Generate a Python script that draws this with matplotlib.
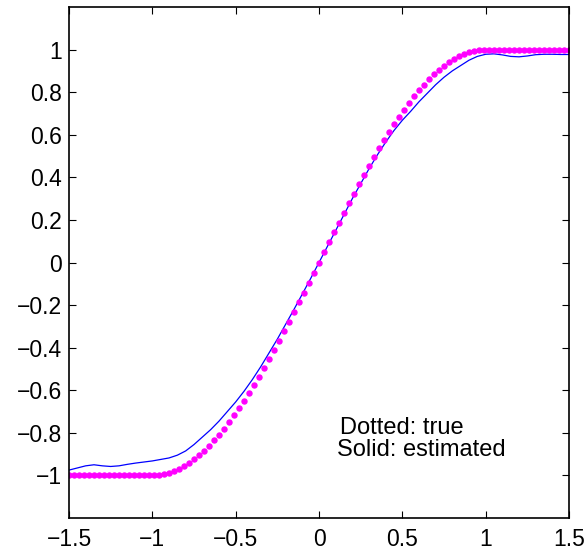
import matplotlib
matplotlib.use('Agg')
import matplotlib.pyplot as plt

plt.rcParams.update({
    'font.family': ['Liberation Sans', 'DejaVu Sans'],
    'font.size': 16.5,
})

# true function (dotted), sampled every 0.03
x_true = [-1.50, -1.47, -1.44, -1.41, -1.38, -1.35, -1.32, -1.29, -1.26, -1.23,
          -1.20, -1.17, -1.14, -1.11, -1.08, -1.05, -1.02, -0.99, -0.96, -0.93,
          -0.90, -0.87, -0.84, -0.81, -0.78, -0.75, -0.72, -0.69, -0.66, -0.63,
          -0.60, -0.57, -0.54, -0.51, -0.48, -0.45, -0.42, -0.39, -0.36, -0.33,
          -0.30, -0.27, -0.24, -0.21, -0.18, -0.15, -0.12, -0.09, -0.06, -0.03,
          0.00, 0.03, 0.06, 0.09, 0.12, 0.15, 0.18, 0.21, 0.24, 0.27,
          0.30, 0.33, 0.36, 0.39, 0.42, 0.45, 0.48, 0.51, 0.54, 0.57,
          0.60, 0.63, 0.66, 0.69, 0.72, 0.75, 0.78, 0.81, 0.84, 0.87,
          0.90, 0.93, 0.96, 0.99, 1.02, 1.05, 1.08, 1.11, 1.14, 1.17,
          1.20, 1.23, 1.26, 1.29, 1.32, 1.35, 1.38, 1.41, 1.44, 1.47, 1.50]
y_true = [-1.0, -1.0, -1.0, -1.0, -1.0, -1.0, -1.0, -1.0, -1.0, -1.0,
          -1.0, -1.0, -1.0, -1.0, -1.0, -1.0, -1.0, -1.000, -0.998, -0.994,
          -0.988, -0.979, -0.969, -0.956, -0.941, -0.924, -0.905, -0.884, -0.861, -0.836,
          -0.809, -0.780, -0.750, -0.718, -0.685, -0.649, -0.613, -0.575, -0.536, -0.495,
          -0.454, -0.412, -0.368, -0.324, -0.279, -0.233, -0.187, -0.141, -0.094, -0.047,
          0.000, 0.047, 0.094, 0.141, 0.187, 0.233, 0.279, 0.324, 0.368, 0.412,
          0.454, 0.495, 0.536, 0.575, 0.613, 0.649, 0.685, 0.718, 0.750, 0.780,
          0.809, 0.836, 0.861, 0.884, 0.905, 0.924, 0.941, 0.956, 0.969, 0.979,
          0.988, 0.994, 0.998, 1.000, 1.0, 1.0, 1.0, 1.0, 1.0, 1.0,
          1.0, 1.0, 1.0, 1.0, 1.0, 1.0, 1.0, 1.0, 1.0, 1.0, 1.0]

# estimated function (solid), every 0.05
x_est = [-1.50, -1.45, -1.40, -1.35, -1.30, -1.25, -1.20, -1.15, -1.10, -1.05,
         -1.00, -0.95, -0.90, -0.85, -0.80, -0.75, -0.70, -0.65, -0.60, -0.55,
         -0.50, -0.45, -0.40, -0.35, -0.30, -0.25, -0.20, -0.15, -0.10, -0.05,
         0.00, 0.05, 0.10, 0.15, 0.20, 0.25, 0.30, 0.35, 0.40, 0.45,
         0.50, 0.55, 0.60, 0.65, 0.70, 0.75, 0.80, 0.85, 0.90, 0.95,
         1.00, 1.05, 1.10, 1.15, 1.20, 1.25, 1.30, 1.35, 1.40, 1.45, 1.50]
y_est = [-0.975, -0.965, -0.955, -0.950, -0.955, -0.958, -0.955, -0.948, -0.942, -0.937,
         -0.932, -0.925, -0.918, -0.905, -0.885, -0.855, -0.820, -0.785, -0.745, -0.700,
         -0.655, -0.605, -0.550, -0.490, -0.425, -0.360, -0.290, -0.220, -0.148, -0.075,
         0.000, 0.075, 0.150, 0.225, 0.300, 0.370, 0.440, 0.505, 0.565, 0.620,
         0.668, 0.710, 0.755, 0.795, 0.835, 0.870, 0.900, 0.925, 0.950, 0.968,
         0.978, 0.980, 0.975, 0.968, 0.966, 0.970, 0.976, 0.978, 0.978, 0.977, 0.977]

xticks = [-1.5, -1, -0.5, 0, 0.5, 1, 1.5]
xticklabels = ['\u22121.5', '\u22121', '\u22120.5', '0', '0.5', '1', '1.5']
yticks = [-1, -0.8, -0.6, -0.4, -0.2, 0, 0.2, 0.4, 0.6, 0.8, 1]
yticklabels = ['\u22121', '\u22120.8', '\u22120.6', '\u22120.4', '\u22120.2', '0',
               '0.2', '0.4', '0.6', '0.8', '1']

fig = plt.figure(figsize=(5.86, 5.53), dpi=100)
ax = fig.add_axes([69/586, 35/553, 500/586, 511/553])

ax.plot(x_est, y_est, color='#0000FF', lw=0.9)
ax.plot(x_true, y_true, linestyle='none', marker='o', ms=3.6,
        color='#FF00FF', mec='#FF00FF')

ax.set_xlim(-1.5, 1.5)
ax.set_ylim(-1.2, 1.2)
ax.set_xticks(xticks)
ax.set_xticklabels(xticklabels)
ax.set_yticks(yticks)
ax.set_yticklabels(yticklabels)
ax.tick_params(direction='in', length=5, width=0.8, top=True, right=True)
ax.tick_params(axis='x', pad=7)
ax.tick_params(axis='y', pad=5)
for s in ax.spines.values():
    s.set_linewidth(1.2)

ax.text(0.126, -0.804, 'Dotted: true', fontsize=17, va='baseline')
ax.text(0.108, -0.91, 'Solid: estimated', fontsize=17, va='baseline')

fig.savefig('out.png', dpi=100)
